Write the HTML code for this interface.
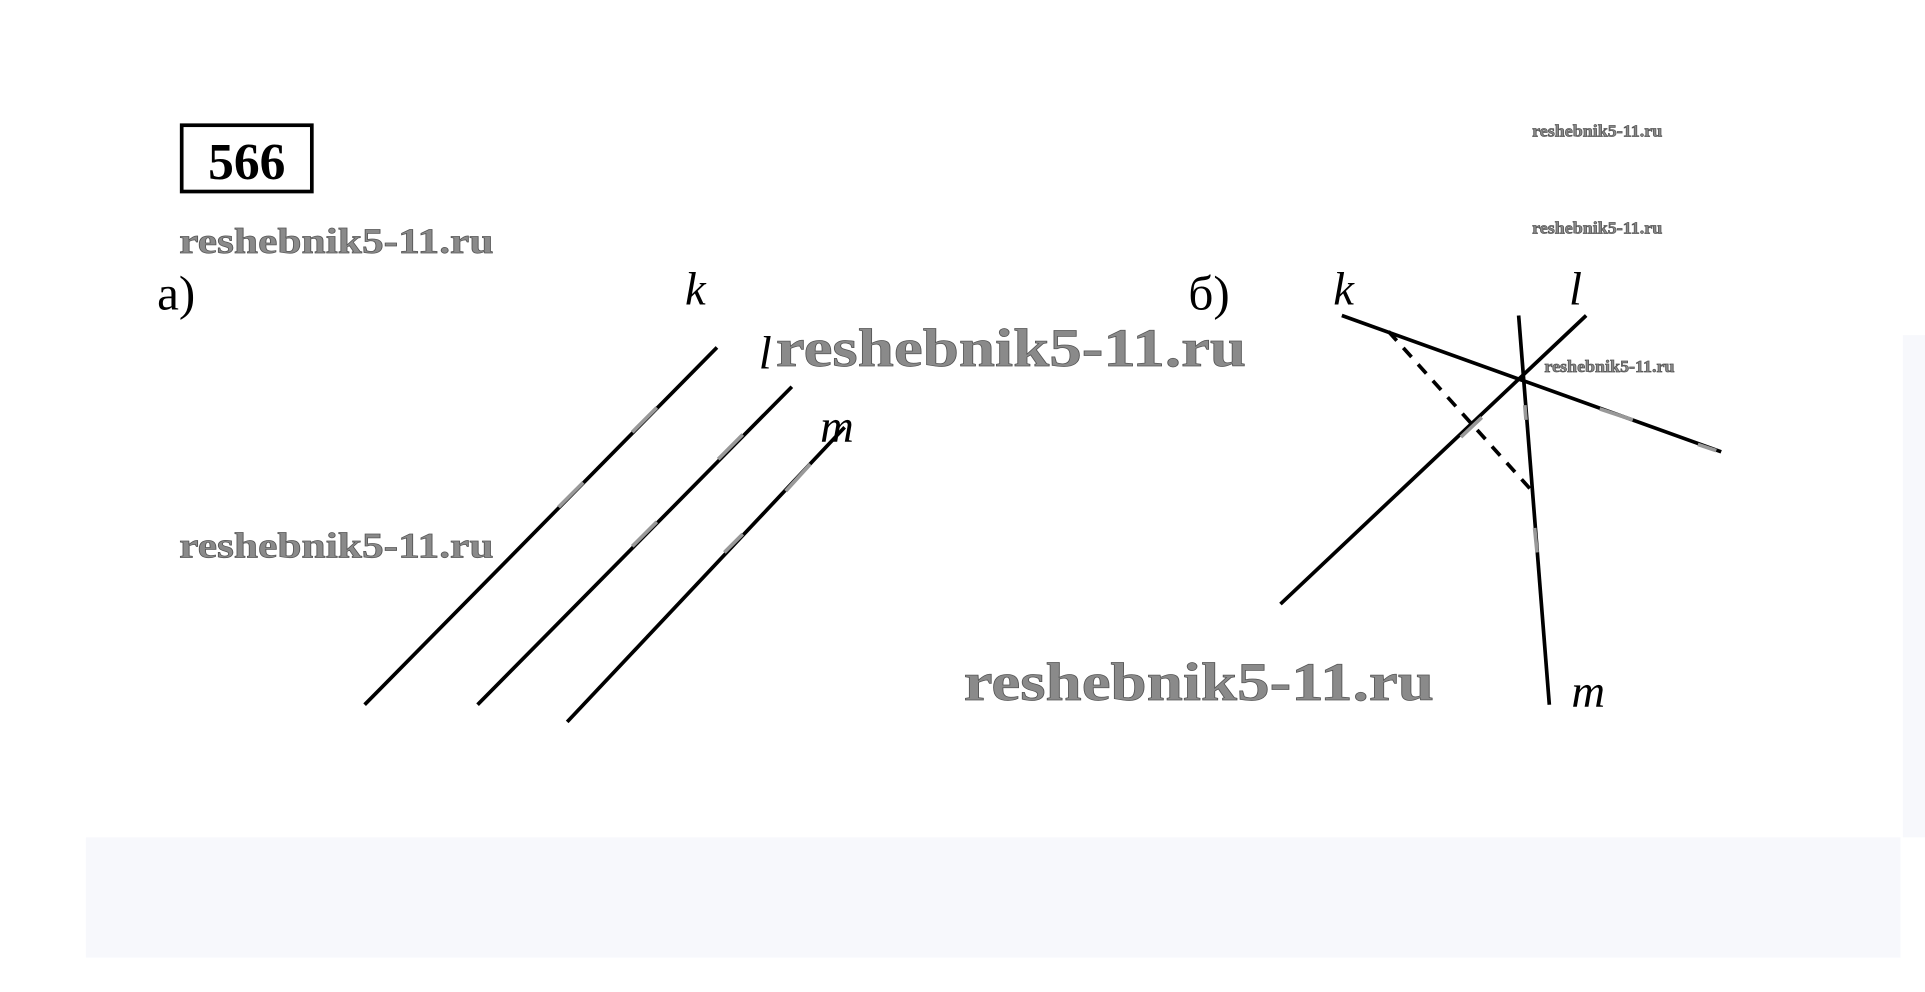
<!DOCTYPE html>
<html><head><meta charset="utf-8"><style>
html,body{margin:0;padding:0;background:#fff;width:1925px;height:992px;overflow:hidden}
svg{display:block}
.wm{font-family:"Liberation Serif",serif;font-weight:bold;fill:#8a8a8a;stroke:#555;stroke-width:0.6}
.lab{font-family:"Liberation Serif",serif;font-style:italic;fill:#000}
</style></head><body>
<svg width="1925" height="992" viewBox="0 0 1568 808" preserveAspectRatio="none">
<rect x="70" y="682" width="1478" height="98" fill="#f7f8fc"/>
<rect x="1550" y="273" width="18" height="409" fill="#f7f8fc"/>
<rect x="148" y="102" width="106" height="54" fill="none" stroke="#000" stroke-width="3"/>
<text x="201" y="146" text-anchor="middle" font-family="Liberation Serif,serif" font-weight="bold" font-size="42">566</text>
<text class="wm" x="146" y="206" font-size="29" textLength="256" lengthAdjust="spacingAndGlyphs">reshebnik5-11.ru</text>
<text class="wm" x="146" y="454" font-size="29" textLength="256" lengthAdjust="spacingAndGlyphs">reshebnik5-11.ru</text>
<text class="wm" x="632" y="298" font-size="44" textLength="383" lengthAdjust="spacingAndGlyphs">reshebnik5-11.ru</text>
<text class="wm" x="785" y="570" font-size="44" textLength="383" lengthAdjust="spacingAndGlyphs">reshebnik5-11.ru</text>
<text class="wm" x="1248" y="111" font-size="14" stroke-width="0.3" textLength="106" lengthAdjust="spacingAndGlyphs">reshebnik5-11.ru</text>
<text class="wm" x="1248" y="190" font-size="14" stroke-width="0.3" textLength="106" lengthAdjust="spacingAndGlyphs">reshebnik5-11.ru</text>
<text class="wm" x="1258" y="303" font-size="14" stroke-width="0.3" textLength="106" lengthAdjust="spacingAndGlyphs">reshebnik5-11.ru</text>
<text x="128" y="252" font-family="Liberation Serif,serif" font-size="40">а)</text>
<text x="968" y="252" font-family="Liberation Serif,serif" font-size="40">б)</text>
<text class="lab" x="558" y="248" font-size="38">k</text>
<text class="lab" x="618" y="300" font-size="38">l</text>
<text class="lab" x="668" y="360" font-size="38" fill="#777">m</text>
<text class="lab" x="1086" y="248" font-size="38">k</text>
<text class="lab" x="1278" y="248" font-size="38">l</text>
<text class="lab" x="1280" y="576" font-size="38">m</text>
<g stroke="#000" stroke-width="3" fill="none">
<line x1="584" y1="283" x2="297" y2="574"/>
<line x1="645" y1="315" x2="389" y2="574"/>
<line x1="688" y1="348" x2="462" y2="588"/>
<line x1="1093" y1="257" x2="1402" y2="368"/>
<line x1="1292" y1="257" x2="1043" y2="492"/>
<line x1="1237" y1="257" x2="1262" y2="574"/>
<line x1="1131" y1="270" x2="1248" y2="400" stroke-dasharray="10,8"/>
</g>
<g stroke="#999" stroke-width="3">
<line x1="535" y1="332" x2="515" y2="352"/>
<line x1="475" y1="393" x2="455" y2="413"/>
<line x1="605" y1="354" x2="585" y2="374"/>
<line x1="535" y1="425" x2="515" y2="445"/>
<line x1="660" y1="378" x2="640" y2="400"/>
<line x1="605" y1="435" x2="590" y2="450"/>
<line x1="1303" y1="333" x2="1330" y2="342"/>
<line x1="1383" y1="362" x2="1398" y2="367"/>
<line x1="1207" y1="340" x2="1190" y2="356"/>
<line x1="1242" y1="330" x2="1243" y2="342"/>
<line x1="1250" y1="430" x2="1252" y2="450"/>
</g>
</svg>
</body></html>
